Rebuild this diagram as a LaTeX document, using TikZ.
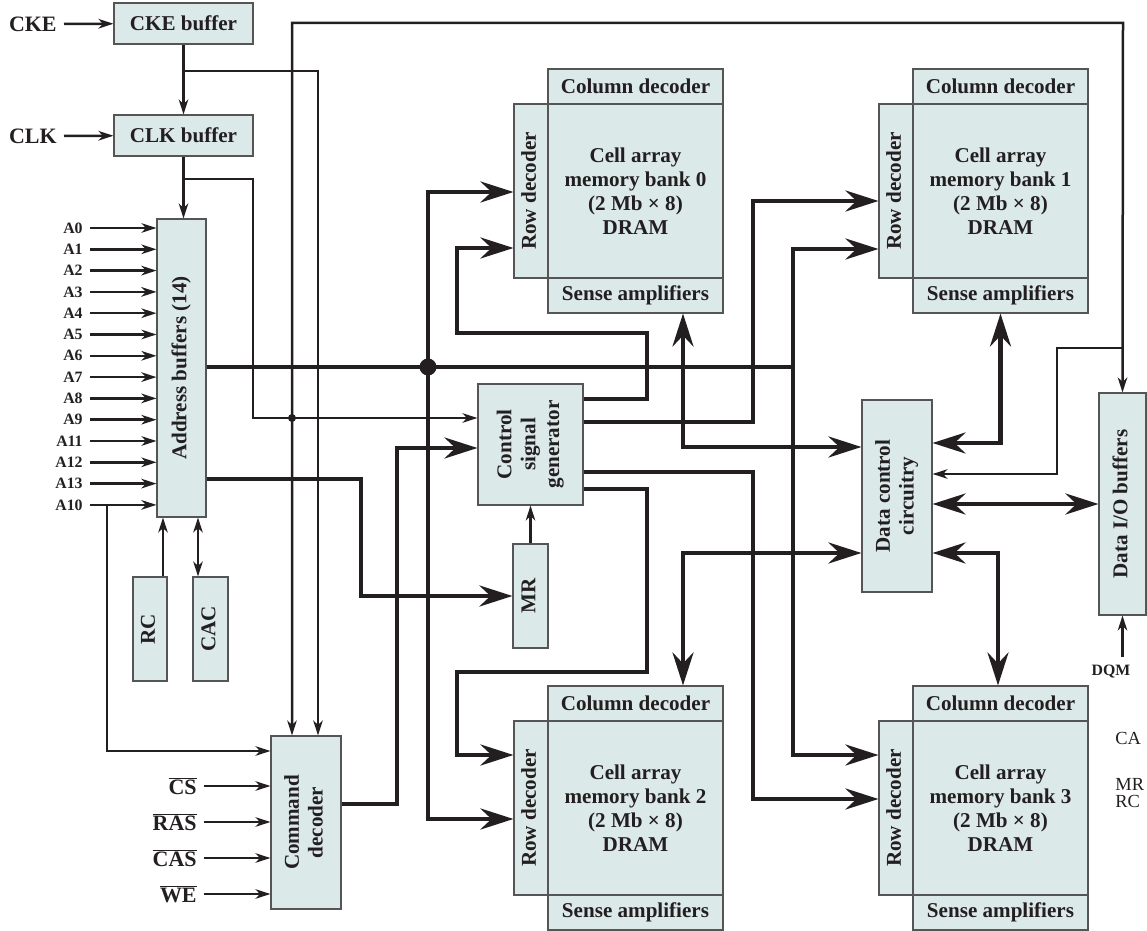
\documentclass[tikz,border=0pt]{standalone}
\usepackage{fontspec}
\setmainfont{Liberation Serif}
\usepackage{tikz}
\usetikzlibrary{arrows.meta}

\definecolor{boxfill}{RGB}{220,233,233}
\definecolor{ink}{RGB}{35,31,32}
\definecolor{edge}{RGB}{85,85,85}

% upright text in a tall box
\newcommand{\vtext}[1]{\rotatebox{90}{\begin{tabular}{@{}c@{}}#1\end{tabular}}}

\begin{document}
\begin{tikzpicture}[
    x=0.2mm, y=-0.2mm,
    color=ink,
    font=\fontsize{12}{13.6}\selectfont\bfseries,
    >={Stealth[length=3mm,width=1.9mm,inset=0.9mm]},
    blk/.style={draw=edge, line width=0.6pt, fill=boxfill, align=center, inner sep=0pt},
    sig/.style={line width=0.5mm},
    bus/.style={line width=0.9mm, >={Stealth[length=6.6mm,width=4.2mm,inset=2.2mm]}},
    inlab/.style={anchor=east, inner xsep=1.4mm, inner ysep=0pt, font=\fontsize{12.5}{14}\selectfont\bfseries},
    alab/.style={anchor=east, inner xsep=1.4mm, inner ysep=0pt, font=\fontsize{9}{10}\selectfont\bfseries},
    note/.style={anchor=west, inner sep=0pt, font=\fontsize{10.5}{12}\selectfont}
  ]
    \useasboundingbox (0,0) rectangle (1147,931);

    % buffers and control blocks
    \node[blk, minimum width=27.8mm, minimum height=8.2mm] (ckebuf) at (183.5,23.5) {CKE buffer};
    \node[blk, minimum width=27.8mm, minimum height=8.2mm] (clkbuf) at (183.5,135.5) {CLK buffer};
    \node[blk, minimum width=9.8mm, minimum height=59.6mm] (addr) at (181.5,368) {\vtext{Address buffers (14)}};
    \node[blk, minimum width=6.8mm, minimum height=20.8mm] (rc) at (150,629) {\vtext{RC}};
    \node[blk, minimum width=7mm, minimum height=20.8mm] (cac) at (210.5,629) {\vtext{CAC}};
    \node[blk, minimum width=14mm, minimum height=34.6mm] (cmd) at (306,822.5) {\vtext{Command\\decoder}};
    \node[blk, minimum width=21mm, minimum height=24.2mm] (csg) at (530.5,444.5) {\vtext{Control\\signal\\generator}};
    \node[blk, minimum width=7mm, minimum height=20.8mm] (mr) at (530.5,596) {\vtext{MR}};
    \node[blk, minimum width=14mm, minimum height=38.4mm] (dcc) at (897,496) {\vtext{Data control\\circuitry}};
    \node[blk, minimum width=9.4mm, minimum height=44.4mm] (dio) at (1122.5,504) {\vtext{Data I/O buffers}};

    % memory banks
    \foreach \bk/\x/\y in {0/548/69, 1/913/69, 2/548/686, 3/913/686} {
      \node[blk, minimum width=35mm, minimum height=7mm] (col\bk) at ({\x+87.5},{\y+17.5}) {Column decoder};
      \node[blk, minimum width=35mm, minimum height=34.8mm] (cell\bk) at ({\x+87.5},{\y+122}) {Cell array\\memory bank \bk\\(2 Mb × 8)\\DRAM};
      \node[blk, minimum width=6.8mm, minimum height=34.8mm] (row\bk) at ({\x-17},{\y+122}) {\vtext{Row decoder}};
      \node[blk, minimum width=35mm, minimum height=7mm] (sense\bk) at ({\x+87.5},{\y+226.5}) {Sense amplifiers};
    }

    % inputs
    \node[inlab] (cke) at (64,24) {CKE};
    \node[inlab] (clk) at (64,136) {CLK};
    \draw[sig,->] (cke) -- (ckebuf);
    \draw[sig,->] (clk) -- (clkbuf);
    \foreach \a [count=\i from 0] in {A0,A1,A2,A3,A4,A5,A6,A7,A8,A9,A11,A12,A13,A10} {
      \node[alab] (in\a) at (90,{228+21.3*\i}) {\a};
      \draw[sig,->] (in\a.east) -- (addr.west |- in\a.east);
    }
    \foreach \s/\y in {CS/786, RAS/822, CAS/858, WE/894} {
      \node[inlab] (\s) at (204,\y) {$\overline{\mbox{\s}}$};
      \draw[sig,->] (\s) -- (cmd.west |- \s);
    }
    \node[alab, anchor=north, inner ysep=1.6mm] (dqm) at (1111,657) {DQM};
    \draw[sig,->] (dio.south |- dqm.north) -- (dio.south);

    % clock and control wiring
    \draw[sig,->] (ckebuf) -- (clkbuf);
    \draw[sig,->] (clkbuf.south) -- (clkbuf.south |- addr.north);
    \draw[sig,->] (ckebuf.south |- 0,71) -| (cmd.north -| 318,0);
    \draw[sig,->] (clkbuf.south |- 0,179) -| (253,418) -- (csg.west |- 0,418);
    \fill (292,418) circle (0.8mm);
    \draw[sig,<->] (cmd.north -| 292,0) |- (1123,23) -- (dio.north);
    \draw[sig,->] (dio.north |- 0,348) -| (1057,474) -- (dcc.east |- 0,474);
    \draw[sig,->] (inA10.east -| 107,0) |- (cmd.west |- 0,751);
    \draw[sig,->] ([xshift=2.6mm]rc.north) -- ([xshift=2.6mm]rc.north |- addr.south);
    \draw[sig,<->] ([xshift=-2.5mm]cac.north) -- ([xshift=-2.5mm]cac.north |- addr.south);
    \draw[sig,->] (mr) -- (csg);

    % address bus
    \draw[bus] (addr.east |- 0,367) -- (793,367);
    \fill (428,367) circle (1.7mm);
    \draw[bus,->] (428,367) |- (row0.west |- 0,192);
    \draw[bus,->] (428,367) |- (row2.west |- 0,819);
    \draw[bus,->] (793,367) |- (row1.west |- 0,249);
    \draw[bus,->] (793,367) |- (row3.west |- 0,755);
    \draw[bus,->] (addr.east |- 0,479) -| (361,596) -- (mr.west);
    \draw[bus,->] (cmd.east |- 0,804) -| (397,448) -- (csg.west |- 0,448);

    % control signal generator outputs
    \draw[bus,->] (csg.east |- 0,399) -| (647,333) -| (457,248) -- (row0.west |- 0,248);
    \draw[bus,->] (csg.east |- 0,422) -| (753,201) -- (row1.west |- 0,201);
    \draw[bus,->] (csg.east |- 0,472) -| (753,799) -- (row3.west |- 0,799);
    \draw[bus,->] (csg.east |- 0,489) -| (647,672) -| (457,755) -- (row2.west |- 0,755);

    % data paths
    \draw[bus,<->] (sense0.south -| 683,0) |- (dcc.west |- 0,447);
    \draw[bus,<->] (sense1.south) |- (dcc.east |- 0,443);
    \draw[bus,<->] (dcc.west |- 0,553) -| (col2.north -| 683,0);
    \draw[bus,<->] (dcc.east |- 0,553) -| (col3.north -| 998,0);
    \draw[bus,<->] (dcc.east |- dio.west) -- (dio.west);

    % notes at the right edge
    \node[note] (noteCA) at (1115,738) {CA};
    \node[note] (noteMR) at (1115,784) {MR};
    \node[note] (noteRC) at (1115,801) {RC};
  \end{tikzpicture}
\end{document}
